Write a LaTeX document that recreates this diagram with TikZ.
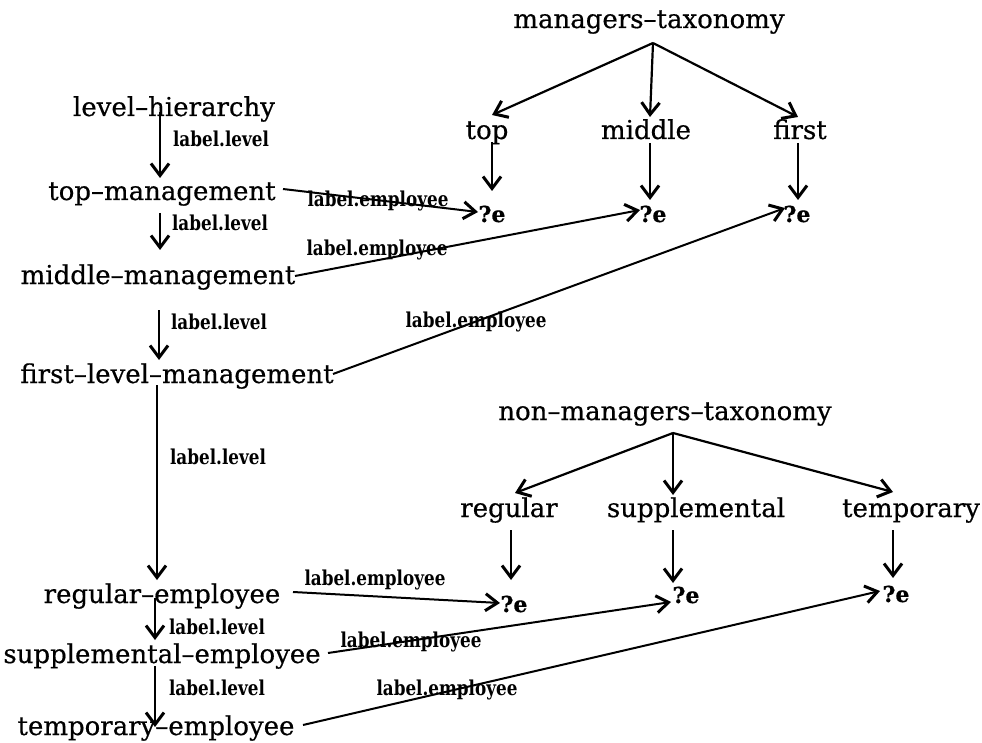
\documentclass[tikz,border=0pt]{standalone}
\usepackage{fontspec}
\setmainfont[FakeBold=0.5]{DejaVu Serif}
\newfontfamily\lblfont[FakeStretch=0.82]{DejaVu Serif}
\usetikzlibrary{arrows.meta}

\tikzset{
  term/.style={inner sep=0pt, anchor=base, font=\fontsize{26}{30}\selectfont},
  rel/.style={inner sep=0pt, anchor=base, font=\lblfont\bfseries\fontsize{20.5}{24}\selectfont},
  var/.style={inner sep=0pt, anchor=base, font=\bfseries\fontsize{22}{26}\selectfont},
  link/.style={line width=2.2pt, -{Straight Barb[length=12pt,width=18pt,line width=3pt]}},
  slink/.style={line width=2pt, -{Straight Barb[length=12pt,width=17pt,line width=3pt]}}
}

\begin{document}
\begin{tikzpicture}[x=1pt,y=-1pt]
\useasboundingbox (0,0) rectangle (982,743);

% level hierarchy (left column)
\node[term] (lh)  at (174,116) {level–hierarchy};
\node[term] (tm)  at (162,200) {top–management};
\node[term] (mm)  at (158,284) {middle–management};
\node[term] (flm) at (177,383) {first–level–management};
\node[term] (re)  at (162,603) {regular–employee};
\node[term] (se)  at (162,663) {supplemental–employee};
\node[term] (te)  at (156,735) {temporary–employee};

% managers taxonomy
\node[term] (mt)  at (649,28)  {managers–taxonomy};
\node[term] (mtop) at (487,139) {top};
\node[term] (mmid) at (646,139) {middle};
\node[term] (mfst) at (800,139) {first};
\node[var] (e1) at (492,222) {?e};
\node[var] (e2) at (653,222) {?e};
\node[var] (e3) at (797,222) {?e};

% non-managers taxonomy
\node[term] (nt)   at (665,420) {non–managers–taxonomy};
\node[term] (nreg) at (509,517) {regular};
\node[term] (nsup) at (696,517) {supplemental};
\node[term] (ntmp) at (911,517) {temporary};
\node[var] (e4) at (514,612) {?e};
\node[var] (e5) at (686,603) {?e};
\node[var] (e6) at (896,602) {?e};

% connector end points
\coordinate (lh-o)  at (160,112);  \coordinate (tm-i)  at (160,178);
\coordinate (tm-o)  at (160,213);  \coordinate (mm-i)  at (160,250);
\coordinate (mm-o)  at (159,310);  \coordinate (flm-i) at (159,360);
\coordinate (flm-o) at (157,385);  \coordinate (re-i)  at (157,580);
\coordinate (re-o)  at (155,598);  \coordinate (se-i)  at (155,640);
\coordinate (se-o)  at (155,666);  \coordinate (te-i)  at (155,727);

\coordinate (mt-o) at (653,43);
\coordinate (mtop-i) at (492,115); \coordinate (mmid-i) at (650,117); \coordinate (mfst-i) at (798,117);
\coordinate (mtop-o) at (492,142); \coordinate (mmid-o) at (650,143); \coordinate (mfst-o) at (798,143);
\coordinate (e1-v) at (492,191);   \coordinate (e2-v) at (650,200);   \coordinate (e3-v) at (798,200);

\coordinate (nt-o) at (673,433);
\coordinate (nreg-i) at (515,493); \coordinate (nsup-i) at (673,495); \coordinate (ntmp-i) at (893,492);
\coordinate (nreg-o) at (511,530); \coordinate (nsup-o) at (673,530); \coordinate (ntmp-o) at (893,530);
\coordinate (e4-v) at (511,580);   \coordinate (e5-v) at (673,583);   \coordinate (e6-v) at (893,578);

\coordinate (tm-r)  at (283,189); \coordinate (e1-l) at (478,212);
\coordinate (mm-r)  at (295,276); \coordinate (e2-l) at (640,210);
\coordinate (flm-r) at (333,374); \coordinate (e3-l) at (785,208);
\coordinate (re-r)  at (293,592); \coordinate (e4-l) at (500,603);
\coordinate (se-r)  at (328,653); \coordinate (e5-l) at (671,602);
\coordinate (te-r)  at (303,725); \coordinate (e6-l) at (880,591);

% level links
\draw[link] (lh-o) -- (tm-i);
\draw[link] (tm-o) -- (mm-i);
\draw[link] (mm-o) -- (flm-i);
\draw[link] (flm-o) -- (re-i);
\draw[link] (re-o) -- (se-i);
\draw[link] (se-o) -- (te-i);
\node[rel] (l1) at (221,147) {label.level};
\node[rel] (l2) at (220,231) {label.level};
\node[rel] (l3) at (219,329) {label.level};
\node[rel] (l4) at (218,464) {label.level};
\node[rel] (l5) at (217,634) {label.level};
\node[rel] (l6) at (217,695) {label.level};

% taxonomy links
\draw[link] (mt-o) -- (mtop-i);
\draw[link] (mt-o) -- (mmid-i);
\draw[link] (mt-o) -- (mfst-i);
\draw[link] (mtop-o) -- (e1-v);
\draw[link] (mmid-o) -- (e2-v);
\draw[link] (mfst-o) -- (e3-v);
\draw[link] (nt-o) -- (nreg-i);
\draw[link] (nt-o) -- (nsup-i);
\draw[link] (nt-o) -- (ntmp-i);
\draw[link] (nreg-o) -- (e4-v);
\draw[link] (nsup-o) -- (e5-v);
\draw[link] (ntmp-o) -- (e6-v);

% employee links
\draw[slink] (tm-r) -- (e1-l);
\draw[slink] (mm-r) -- (e2-l);
\draw[slink] (flm-r) -- (e3-l);
\draw[slink] (re-r) -- (e4-l);
\draw[slink] (se-r) -- (e5-l);
\draw[slink] (te-r) -- (e6-l);
\node[rel] (k1) at (378,207) {label.employee};
\node[rel] (k2) at (377,255) {label.employee};
\node[rel] (k3) at (476,327) {label.employee};
\node[rel] (k4) at (375,585) {label.employee};
\node[rel] (k5) at (411,647) {label.employee};
\node[rel] (k6) at (447,695) {label.employee};
\end{tikzpicture}
\end{document}
